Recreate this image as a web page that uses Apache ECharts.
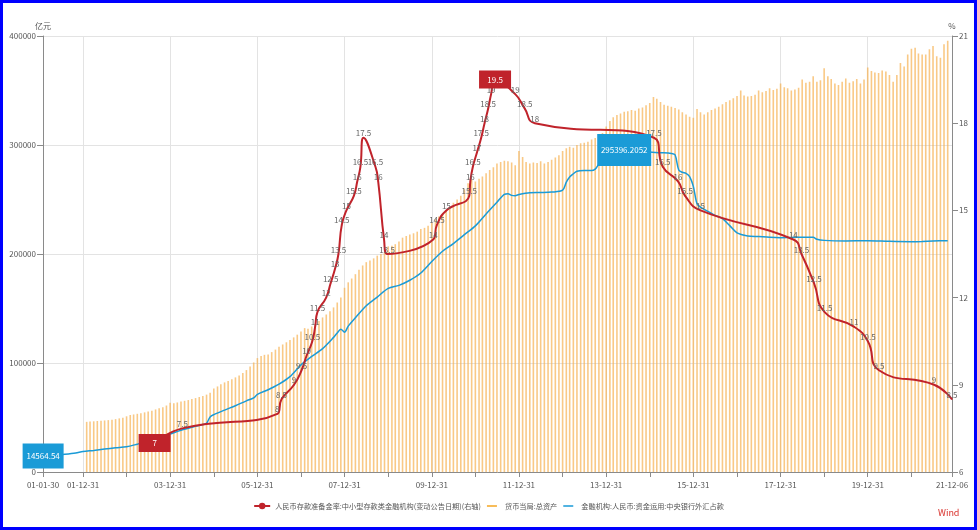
<!DOCTYPE html>
<html><head><meta charset="utf-8">
<script src="https://cdn.jsdelivr.net/npm/echarts@6/dist/echarts.min.js"></script>
<style>html,body{margin:0;padding:0;background:#fff}#c{position:absolute;left:0;top:0;width:977px;height:530px}#f{position:absolute;left:0;top:0;width:977px;height:530px;box-sizing:border-box;border:3px solid #0000ff;pointer-events:none}</style>
</head><body><div id="c"></div><div id="f"></div>
<script>
// ---- tick labels ----
const xTickLabels = ['01-01-30','01-12-31','03-12-31','05-12-31','07-12-31','09-12-31','11-12-31','13-12-31','15-12-31','17-12-31','19-12-31','21-12-06'];
const xMinorTickLabels = ['02-12-31','04-12-31','06-12-31','08-12-31','10-12-31','12-12-31','14-12-31','16-12-31','18-12-31','20-12-31'];
const leftAxisRange = [0, 400000, 100000];
const rightAxisRange = [6, 21, 3];

// ---- series names ----
const redName = '人民币存款准备金率:中小型存款类金融机构(变动公告日期)(右轴)';
const barName = '货币当局:总资产';
const blueName = '金融机构:人民币:资金运用:中央银行外汇占款';

// ---- reserve requirement ratio (%), announcement dates ----
const rrrDates = ['2003-08-23','2004-04-11','2006-06-16','2006-07-21','2006-11-03','2007-01-05','2007-02-16','2007-04-05','2007-04-29','2007-05-18','2007-07-30','2007-09-06','2007-10-13','2007-11-10','2007-12-08','2008-01-16','2008-03-18','2008-04-16','2008-05-12','2008-06-07','2008-09-15','2008-10-08','2008-11-26','2008-12-22','2010-01-12','2010-02-12','2010-05-02','2010-11-10','2010-11-19','2010-12-10','2011-01-14','2011-02-18','2011-03-18','2011-04-17','2011-05-12','2011-06-14','2011-11-30','2012-02-18','2012-05-12','2015-02-04','2015-04-19','2015-08-25','2015-10-23','2016-02-29','2018-04-17','2018-06-24','2018-10-07','2019-01-04','2019-09-06','2020-01-01','2020-04-03','2021-07-09','2021-12-06'];
const rrrValues = [7,7.5,8,8.5,9,9.5,10,10.5,11,11.5,12,12.5,13,13.5,14.5,15,15.5,16,16.5,17.5,16.5,16,14,13.5,14,14.5,15,15.5,16,16.5,17,17.5,18,18.5,19,19.5,19,18.5,18,17.5,16.5,16,15.5,15,14,13.5,12.5,11.5,11,10.5,9.5,9,8.5];

// ---- FX position (亿元) ----
const fxDates = ['2001-01-31','2001-04-30','2001-07-31','2001-10-31','2001-12-31','2002-03-31','2002-06-30','2002-09-30','2002-12-31','2003-03-31','2003-06-30','2003-09-30','2003-12-31','2004-03-31','2004-06-30','2004-09-30','2004-10-31','2004-11-30','2004-12-31','2005-03-31','2005-06-30','2005-09-30','2005-11-30','2005-12-31','2006-03-31','2006-06-30','2006-09-30','2006-12-31','2007-03-31','2007-06-30','2007-09-30','2007-10-31','2007-11-30','2007-12-31','2008-01-31','2008-03-31','2008-06-30','2008-09-30','2008-12-31','2009-03-31','2009-06-30','2009-09-30','2009-12-31','2010-03-31','2010-06-30','2010-09-30','2010-12-31','2011-03-31','2011-06-30','2011-08-31','2011-09-30','2011-10-31','2011-11-30','2011-12-31','2012-03-31','2012-06-30','2012-09-30','2012-12-31','2013-01-31','2013-02-28','2013-03-31','2013-04-30','2013-06-30','2013-08-31','2013-09-30','2013-10-31','2013-11-30','2013-12-31','2014-01-31','2014-02-28','2014-03-31','2014-04-30','2014-05-31','2014-06-30','2014-09-30','2014-12-31','2015-03-31','2015-06-30','2015-07-31','2015-08-31','2015-09-30','2015-10-31','2015-11-30','2015-12-31','2016-01-31','2016-02-29','2016-03-31','2016-06-30','2016-08-31','2016-10-31','2016-12-31','2017-03-31','2017-06-30','2017-09-30','2017-12-31','2018-03-31','2018-06-30','2018-09-30','2018-10-31','2018-12-31','2019-06-30','2019-12-31','2020-06-30','2020-12-31','2021-03-31','2021-06-30','2021-10-31'];
const fxValues = [14564.54,15300,16200,17400,18800,19800,21000,22200,23200,25500,28000,31500,34800,38300,41000,43600,44700,50500,52600,56800,60800,65300,68000,71200,75500,80600,87500,98300,106000,113200,123500,127600,130900,128300,133800,141500,152500,160500,168400,171200,175900,182600,193100,202500,209500,217800,225800,236800,247500,254800,255300,253800,253500,254600,256200,256400,256800,258500,265900,270700,273600,276000,276600,276500,277900,282400,284300,286300,290700,293000,294200,294900,295396.2052,295300,294300,293500,293000,292300,291000,277000,275000,274000,271000,262000,246000,243000,241000,235500,232500,226000,219400,216600,216000,215300,215000,215200,215400,215300,213500,212500,212000,212200,211600,211300,211500,211900,212200];

// ---- PBOC total assets (亿元), monthly from 2002-01 ----
const assetStartYear = 2002;
const assetValues = [
46000,46300,46500,46800,47000,47300,47600,48000,48500,49200,49800,51100,
52300,52800,53400,53900,54700,55400,56300,57400,58600,59500,61000,63500,
63000,63800,64600,65300,66000,66900,67800,68800,69800,71000,72800,76500,
78500,80500,82200,83500,85000,86800,88600,90800,93500,96800,100500,104500,
106500,107500,107800,110000,112300,114800,117000,119000,121000,123500,126000,129000,
132000,131500,133500,135800,138500,141800,144500,147500,151000,155500,160000,169000,
174000,177500,181500,185500,189500,192500,194000,196000,198500,200000,201500,207000,
207500,209000,211500,215000,216500,218000,219000,220500,223000,224000,226000,228500,
232000,234500,236500,240000,243000,247000,250000,253500,259500,265000,268000,266500,
269000,271000,274000,277000,279500,283000,284500,285500,285000,284000,281500,294500,
289000,284500,283000,284000,283500,285000,283000,284500,286500,288500,290500,294500,
297000,298500,297500,300000,301500,302000,303000,305000,306500,309000,311000,317000,
322000,325500,327500,329000,330500,331000,332000,331500,333500,334500,336500,338500,
344000,342500,339500,337000,336000,335000,334000,332500,330000,328000,326000,325000,
333000,330000,328000,330000,332000,333500,335000,337500,339500,341000,343000,345000,
350000,345500,344500,345000,346000,350000,348500,349500,352000,350500,351500,356500,
353000,352000,350000,351000,352500,360000,357000,358000,363000,358000,359500,370500,
363000,360500,356500,355000,358000,361000,357000,358500,360500,356500,360000,371000,
368000,366500,366000,368400,367400,364300,358000,364300,375300,372100,383100,388400,
389300,384000,383100,383100,387800,390900,381500,380000,392500,395600];

// ---- helpers ----
function ts(s){const p=s.split('-').map(Number);return Date.UTC(p[0],p[1]-1,p[2]);}
const full = s => '20' + s;
const xMin = ts(full(xTickLabels[0]));
const xMax = ts(full(xTickLabels[xTickLabels.length-1]));
const labelMap = {};
xTickLabels.forEach(s => { labelMap[ts(full(s))] = s; });
const labelVals = xTickLabels.map(s => ts(full(s)));
const tickVals = xTickLabels.concat(xMinorTickLabels).map(s => ts(full(s)));
const gridVals = xTickLabels.slice(1, -1).map(s => ts(full(s)));

const assetData = assetValues.map((v,i) => {
  const y = assetStartYear + Math.floor(i/12), m = i % 12;
  return [Date.UTC(y, m+1, 0), v];
});
const fxData = fxDates.map((d,i) => [ts(d), fxValues[i]]);
const rMax = Math.max.apply(null, rrrValues), rMin = Math.min.apply(null, rrrValues);
const rrrData = rrrDates.map((d,i) => {
  const o = {value:[ts(d), rrrValues[i]]};
  if (rrrValues[i] === rMax || rrrValues[i] === rMin) o.label = {show:false};
  return o;
});

const RED = '#c0232b', BLUE = '#1a9bd7', FONT = '"Noto Sans CJK SC", "Noto Sans", sans-serif';
const axisGray = '#8a8a8a', gridGray = '#e3e3e3', txt = '#555';
const lineIcon = 'path://M0,0L0.01,0M0,6.5L20,6.5L20,9.5L0,9.5ZM0,16L0.01,16';

const chart = echarts.init(document.getElementById('c'), null, {renderer:'canvas'});
chart.setOption({
  animation:false,
  backgroundColor:'#fff',
  textStyle:{fontFamily:FONT},
  grid:{left:43, right:25, top:36, bottom:58, containLabel:false},
  legend:{
    left:'center', top:497, itemWidth:16, itemHeight:8, itemGap:6,
    textStyle:{fontSize:7.2, color:txt, fontFamily:FONT},
    data:[
      {name:redName},
      {name:barName, icon:lineIcon, itemStyle:{color:'#f5a623'}},
      {name:blueName, icon:lineIcon, itemStyle:{color:BLUE}}
    ]
  },
  xAxis:[{
    type:'value', min:xMin, max:xMax, scale:true,
    axisLine:{lineStyle:{color:axisGray}},
    axisTick:{show:true, length:5, customValues:tickVals, lineStyle:{color:axisGray}},
    axisLabel:{customValues:labelVals, margin:9, fontSize:8, color:txt, fontFamily:FONT,
      formatter: v => labelMap[v] || ''},
    splitLine:{show:false}
  },{
    type:'value', min:xMin, max:xMax, scale:true, position:'top',
    axisLine:{show:false}, axisLabel:{show:false},
    axisTick:{show:false, customValues:gridVals},
    splitLine:{show:true, lineStyle:{color:gridGray}}
  }],
  yAxis:[{
    type:'value', min:leftAxisRange[0], max:leftAxisRange[1], interval:leftAxisRange[2],
    name:'亿元', nameGap:6, nameTextStyle:{fontSize:8, color:txt, align:'center'},
    axisLine:{show:true, lineStyle:{color:axisGray}},
    axisTick:{show:true, length:6, lineStyle:{color:axisGray}},
    axisLabel:{margin:7, fontSize:8, color:txt, formatter: v => String(v)},
    splitLine:{show:true, lineStyle:{color:gridGray}}
  },{
    type:'value', min:rightAxisRange[0], max:rightAxisRange[1], interval:rightAxisRange[2],
    name:'%', nameGap:6, nameTextStyle:{fontSize:8, color:txt, align:'center'},
    axisLine:{show:true, lineStyle:{color:axisGray}},
    axisTick:{show:true, length:6, lineStyle:{color:axisGray}},
    axisLabel:{margin:7, fontSize:8, color:txt, formatter: v => String(v)},
    splitLine:{show:false}
  }],
  series:[{
    name:redName, type:'line', xAxisIndex:0, yAxisIndex:1, smooth:true,
    symbol:'circle', symbolSize:1, showSymbol:true, z:4,
    data:rrrData,
    lineStyle:{color:RED, width:2}, itemStyle:{color:RED},
    label:{show:true, position:'top', distance:0, color:'#666', fontSize:8, formatter:p => p.value[1]},
    markPoint:{symbol:'rect', symbolSize:[32,18], itemStyle:{color:RED},
      label:{color:'#fff', fontSize:8},
      data:[{type:'max'},{type:'min'}]}
  },{
    name:barName, type:'bar', xAxisIndex:0, yAxisIndex:0, barWidth:1.6, z:1,
    itemStyle:{color:'rgba(246,176,76,0.68)'},
    data:assetData
  },{
    name:blueName, type:'line', xAxisIndex:0, yAxisIndex:0, smooth:0.3,
    symbol:'none', z:3, clip:false,
    lineStyle:{color:BLUE, width:1.5}, itemStyle:{color:BLUE},
    data:fxData,
    markPoint:{symbol:'rect', itemStyle:{color:BLUE},
      label:{color:'#fff', fontSize:8},
      data:[{type:'max', symbolSize:[54,32]},{type:'min', symbolSize:[41,25]}]}
  }],
  graphic:[{type:'text', left:938, top:508, style:{text:'Wind', fill:'#d9302b', fontSize:9, fontFamily:FONT}}]
});
</script></body></html>
